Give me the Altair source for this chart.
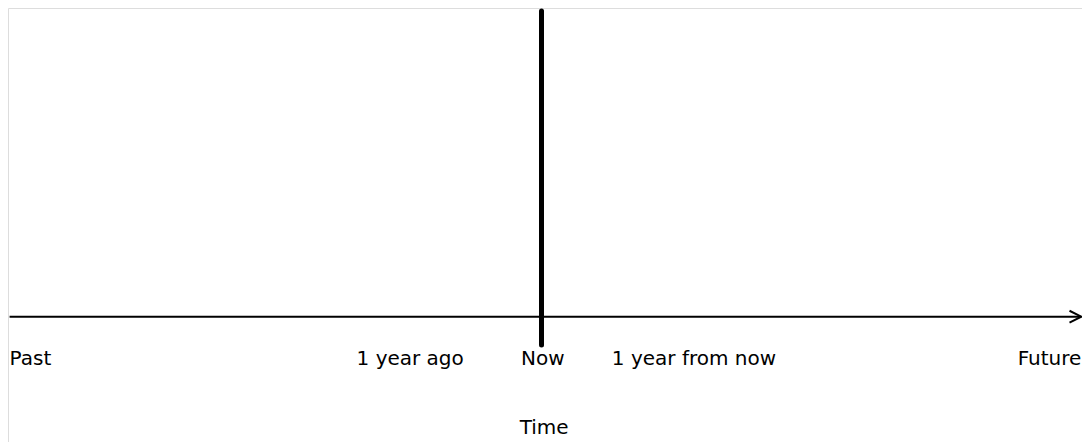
import altair as alt
import pandas as pd

# Time axis, in years relative to "now"
axis_start = -4.03
axis_end = 4.09
now_value = 0.0
now_top = 0.99
now_bottom = -0.092

tick_labels = ["Past", "1 year ago", "Now", "1 year from now", "Future"]
tick_values = [-4.03, -0.995, 0.01, 1.155, 4.09]
tick_align = ["left", "center", "center", "center", "right"]
label_level = -0.158

axis_title = "Time"
title_value = 0.02
title_level = -0.38

FONT = "DejaVu Sans"
xs = alt.Scale(domain=[-4.042, 4.095], nice=False, zero=False)
# 434 px tall, zero at 308.7 px from top
ys = alt.Scale(domain=[-0.406, 1.0], nice=False, zero=False)

axis_df = pd.DataFrame({"x": [axis_start], "x2": [axis_end], "y": [0.0]})
now_df = pd.DataFrame({"x": [now_value], "y": [now_bottom], "y2": [now_top]})
head_df = pd.DataFrame({"x": [axis_end], "y": [0.0]})
labels_df = pd.DataFrame({"label": tick_labels, "x": tick_values,
                          "align": tick_align, "y": [label_level] * len(tick_labels)})
title_df = pd.DataFrame({"label": [axis_title], "x": [title_value], "y": [title_level]})

X = lambda f: alt.X(f, type="quantitative", scale=xs, axis=None)
Y = lambda f: alt.Y(f, type="quantitative", scale=ys, axis=None)

axis_line = alt.Chart(axis_df).mark_rule(color="black", strokeWidth=2).encode(
    x=X("x"), x2="x2", y=Y("y"))

arrow_head = alt.Chart(head_df).mark_point(
    shape="M -1 -0.5 L 0 0 L -1 0.5", filled=False, color="black",
    strokeWidth=2, size=560, opacity=1).encode(x=X("x"), y=Y("y"))

now_line = alt.Chart(now_df).mark_rule(color="black", strokeWidth=5, strokeCap="round").encode(
    x=X("x"), y=Y("y"), y2="y2")

layers = [axis_line, arrow_head, now_line]
for a in ["left", "center", "right"]:
    sub = labels_df[labels_df["align"] == a]
    layers.append(alt.Chart(sub).mark_text(
        align=a, baseline="alphabetic", font=FONT, fontSize=20, color="black").encode(
        x=X("x"), y=Y("y"), text="label:N"))

title = alt.Chart(title_df).mark_text(
    align="center", baseline="alphabetic", font=FONT, fontSize=20, color="black").encode(
    x=X("x"), y=Y("y"), text="label:N")
layers.append(title)

chart = alt.layer(*layers).properties(
    width=1074, height=434, padding=0, autosize=alt.AutoSizeParams(type="none")
).configure_view(stroke=None).configure(background="transparent")

chart.save("out.html", embed_options={"renderer": "svg", "actions": False})
